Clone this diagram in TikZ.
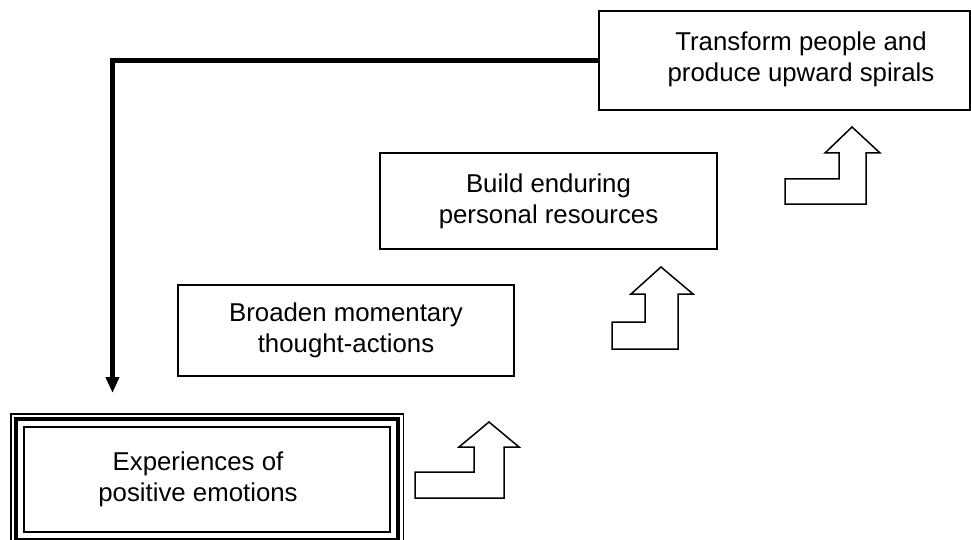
\documentclass[tikz,border=0pt]{standalone}
\usepackage{fontspec}
\setmainfont{Liberation Sans}
\usetikzlibrary{arrows.meta}
\begin{document}
\begin{tikzpicture}[x=1pt,y=-1pt,
  txt/.style={align=center,inner sep=0pt,font=\fontsize{25.8}{31}\selectfont},
  box/.style={txt,draw,line width=1.5pt},
  bent/.style={draw,line width=1.5pt,line join=miter},
  link/.style={line width=4.5pt,-{Triangle[length=16pt,width=13pt]}}]
\useasboundingbox (0,0) rectangle (971,540);
% boxes
\node[box,minimum width=366pt,minimum height=105pt] (b1) at (207,479.5) {};
\node[txt] (t1) at (198,479.5) {Experiences of\\positive emotions};
\draw[line width=4pt] ([shift={(-7.5,-7.5)}]b1.north west) rectangle ([shift={(7.5,7.5)}]b1.south east);
\draw[line width=1.5pt] ([shift={(-12.5,-12.5)}]b1.north west) rectangle ([shift={(12.5,12.5)}]b1.south east);
\node[box,minimum width=336pt,minimum height=91pt] (b2) at (346,330.5) {Broaden momentary\\thought-actions};
\node[box,minimum width=337pt,minimum height=96pt] (b3) at (548.5,201) {Build enduring\\personal resources};
\node[box,minimum width=371pt,minimum height=99pt] (b4) at (784.5,60.5) {};
\node[txt] (t4) at (801,59) {Transform people and\\produce upward spirals};
% bent-up arrows
\draw[bent] (415,472) -- (474,472) -- (474,447) -- (459,447) -- (489,422) -- (519,447) -- (504,447) -- (504,498) -- (415,498) -- cycle;
\draw[bent] (612,322) -- (645,322) -- (645,294) -- (631,294) -- (661,267) -- (693,294) -- (678,294) -- (678,349) -- (612,349) -- cycle;
\draw[bent] (785,179) -- (839,179) -- (839,153) -- (825,153) -- (852,127) -- (880,153) -- (866,153) -- (866,204) -- (785,204) -- cycle;
% feedback connector
\coordinate (tip) at (112.5,393);
\draw[link] (b4.west) -| (tip);
\end{tikzpicture}
\end{document}
